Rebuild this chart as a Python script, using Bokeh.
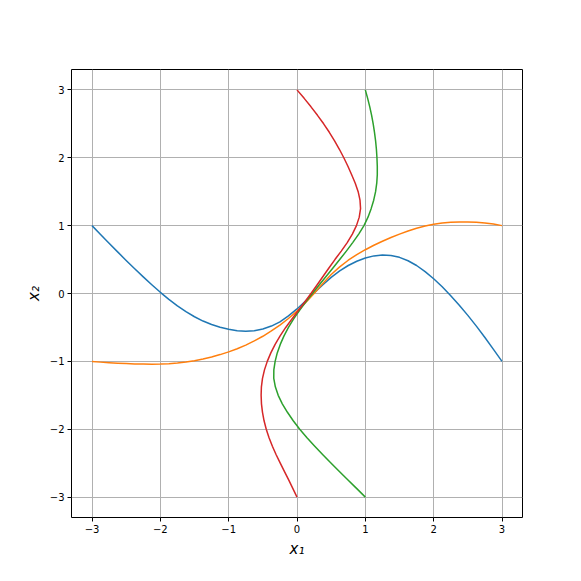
from bokeh.plotting import figure
from bokeh.models import Range1d, FixedTicker
from bokeh.embed import file_html
from bokeh.resources import INLINE

# ---- data ----
blue_x = [-3.0, -2.875, -2.75, -2.625, -2.5, -2.375, -2.25, -2.125, -2.0, -1.875, -1.75, -1.625,
          -1.5, -1.375, -1.25, -1.125, -1.0, -0.875, -0.75, -0.625, -0.5, -0.375, -0.25, -0.125,
          0.0, 0.125, 0.25, 0.375, 0.5, 0.625, 0.75, 0.875, 1.0, 1.125, 1.25, 1.375,
          1.5, 1.625, 1.75, 1.875, 2.0, 2.125, 2.25, 2.375, 2.5, 2.625, 2.75, 2.875, 3.0]
blue_y = [1.0, 0.869, 0.74, 0.613, 0.4875, 0.365, 0.245, 0.129, 0.0175, -0.087, -0.1825, -0.268,
          -0.3425, -0.406, -0.4575, -0.498, -0.5275, -0.549, -0.5575, -0.548, -0.5225, -0.48, -0.4175, -0.3305,
          -0.2275, -0.1125, 0.0075, 0.126, 0.2375, 0.3325, 0.4125, 0.4755, 0.5225, 0.554, 0.5675, 0.56,
          0.5325, 0.4825, 0.4125, 0.323, 0.2175, 0.0985, -0.0325, -0.173, -0.3225, -0.481, -0.6475, -0.823, -1.0]

orange_x = [-3.0, -2.875, -2.75, -2.625, -2.5, -2.375, -2.25, -2.125, -2.0, -1.875, -1.75, -1.625,
            -1.5, -1.375, -1.25, -1.125, -1.0, -0.875, -0.75, -0.625, -0.5, -0.375, -0.25, -0.125,
            0.0, 0.125, 0.25, 0.375, 0.5, 0.625, 0.75, 0.875, 1.0, 1.125, 1.25, 1.375,
            1.5, 1.625, 1.75, 1.875, 2.0, 2.125, 2.25, 2.375, 2.5, 2.625, 2.75, 2.875, 3.0]
orange_y = [-1.0, -1.011, -1.02, -1.027, -1.0325, -1.037, -1.04, -1.041, -1.04, -1.035, -1.025, -1.01,
            -0.99, -0.965, -0.935, -0.9, -0.86, -0.813, -0.76, -0.699, -0.63, -0.552, -0.465, -0.368,
            -0.26, -0.135, 0.0, 0.143, 0.28, 0.393, 0.49, 0.573, 0.645, 0.711, 0.77, 0.825,
            0.875, 0.92, 0.96, 0.993, 1.02, 1.038, 1.05, 1.055, 1.055, 1.05, 1.04, 1.023, 1.0]

green_y = [3.0, 2.875, 2.75, 2.625, 2.5, 2.375, 2.25, 2.125, 2.0, 1.875, 1.75, 1.625,
           1.5, 1.375, 1.25, 1.125, 1.0, 0.875, 0.75, 0.625, 0.5, 0.375, 0.25, 0.125,
           0.0, -0.125, -0.25, -0.375, -0.5, -0.625, -0.75, -0.875, -1.0, -1.125, -1.25, -1.375,
           -1.5, -1.625, -1.75, -1.875, -2.0, -2.125, -2.25, -2.375, -2.5, -2.625, -2.75, -2.875, -3.0]
green_x = [1.0, 1.034, 1.065, 1.092, 1.115, 1.134, 1.15, 1.162, 1.17, 1.175, 1.175, 1.167,
           1.15, 1.1225, 1.085, 1.039, 0.98, 0.903, 0.815, 0.722, 0.625, 0.526, 0.425, 0.324,
           0.225, 0.1275, 0.035, -0.049, -0.125, -0.19, -0.245, -0.289, -0.32, -0.339, -0.34, -0.317,
           -0.275, -0.215, -0.14, -0.055, 0.04, 0.146, 0.26, 0.378, 0.5, 0.624, 0.75, 0.875, 1.0]

red_y = [3.0, 2.875, 2.75, 2.625, 2.5, 2.375, 2.25, 2.125, 2.0, 1.875, 1.75, 1.625,
         1.5, 1.375, 1.25, 1.125, 1.0, 0.875, 0.75, 0.625, 0.5, 0.375, 0.25, 0.125,
         0.0, -0.125, -0.25, -0.375, -0.5, -0.625, -0.75, -0.875, -1.0, -1.125, -1.25, -1.375,
         -1.5, -1.625, -1.75, -1.875, -2.0, -2.125, -2.25, -2.375, -2.5, -2.625, -2.75, -2.875, -3.0]
red_x = [0.0, 0.105, 0.205, 0.3, 0.39, 0.473, 0.55, 0.62, 0.685, 0.745, 0.8, 0.8525,
         0.895, 0.922, 0.93, 0.911, 0.87, 0.81, 0.735, 0.6475, 0.555, 0.467, 0.38, 0.293,
         0.205, 0.113, 0.02, -0.074, -0.165, -0.247, -0.32, -0.383, -0.435, -0.476, -0.505, -0.521,
         -0.525, -0.52, -0.505, -0.482, -0.45, -0.409, -0.36, -0.305, -0.245, -0.183, -0.12, -0.06, 0.0]

tick_values = [-3, -2, -1, 0, 1, 2, 3]
tick_labels = ["\u22123", "\u22122", "\u22121", "0", "1", "2", "3"]

colors = ["#1f77b4", "#ff7f0e", "#2ca02c", "#d62728"]

p = figure(width=572, height=573, output_backend="svg", toolbar_location=None,
           x_range=Range1d(-3.3, 3.3), y_range=Range1d(-3.3, 3.3),
           frame_width=451, frame_height=448,
           min_border_left=71, min_border_right=50, min_border_top=69, min_border_bottom=56)

p.background_fill_color = "white"
p.border_fill_color = "white"
p.outline_line_color = "black"
p.outline_line_width = 1
p.outline_line_alpha = 1

for ax in (p.xaxis[0], p.yaxis[0]):
    ax.ticker = FixedTicker(ticks=tick_values)
    ax.major_label_overrides = {v: l for v, l in zip(tick_values, tick_labels)}
    ax.axis_line_color = None
    ax.major_tick_in = 0
    ax.major_tick_out = 4
    ax.major_tick_line_color = "black"
    ax.minor_tick_line_color = None
    ax.major_label_text_font = "DejaVu Sans"
    ax.major_label_text_font_size = "10px"
    ax.major_label_text_color = "black"
    ax.major_label_standoff = 3
    ax.axis_label_text_font = "DejaVu Sans"
    ax.axis_label_text_font_size = "15px"
    ax.axis_label_text_font_style = "italic"
    ax.axis_label_text_color = "black"
    ax.axis_label_standoff = 4

p.xaxis.axis_label = "x\u2081"
p.yaxis.axis_label = "x\u2082"

p.xgrid.ticker = FixedTicker(ticks=tick_values)
p.ygrid.ticker = FixedTicker(ticks=tick_values)
p.grid.grid_line_color = "#b0b0b0"
p.grid.grid_line_width = 1

p.line(blue_x, blue_y, line_color=colors[0], line_width=1.5, line_join="round")
p.line(orange_x, orange_y, line_color=colors[1], line_width=1.5, line_join="round")
p.line(green_x, green_y, line_color=colors[2], line_width=1.5, line_join="round")
p.line(red_x, red_y, line_color=colors[3], line_width=1.5, line_join="round")

open("out.html", "w").write(file_html(p, INLINE))
